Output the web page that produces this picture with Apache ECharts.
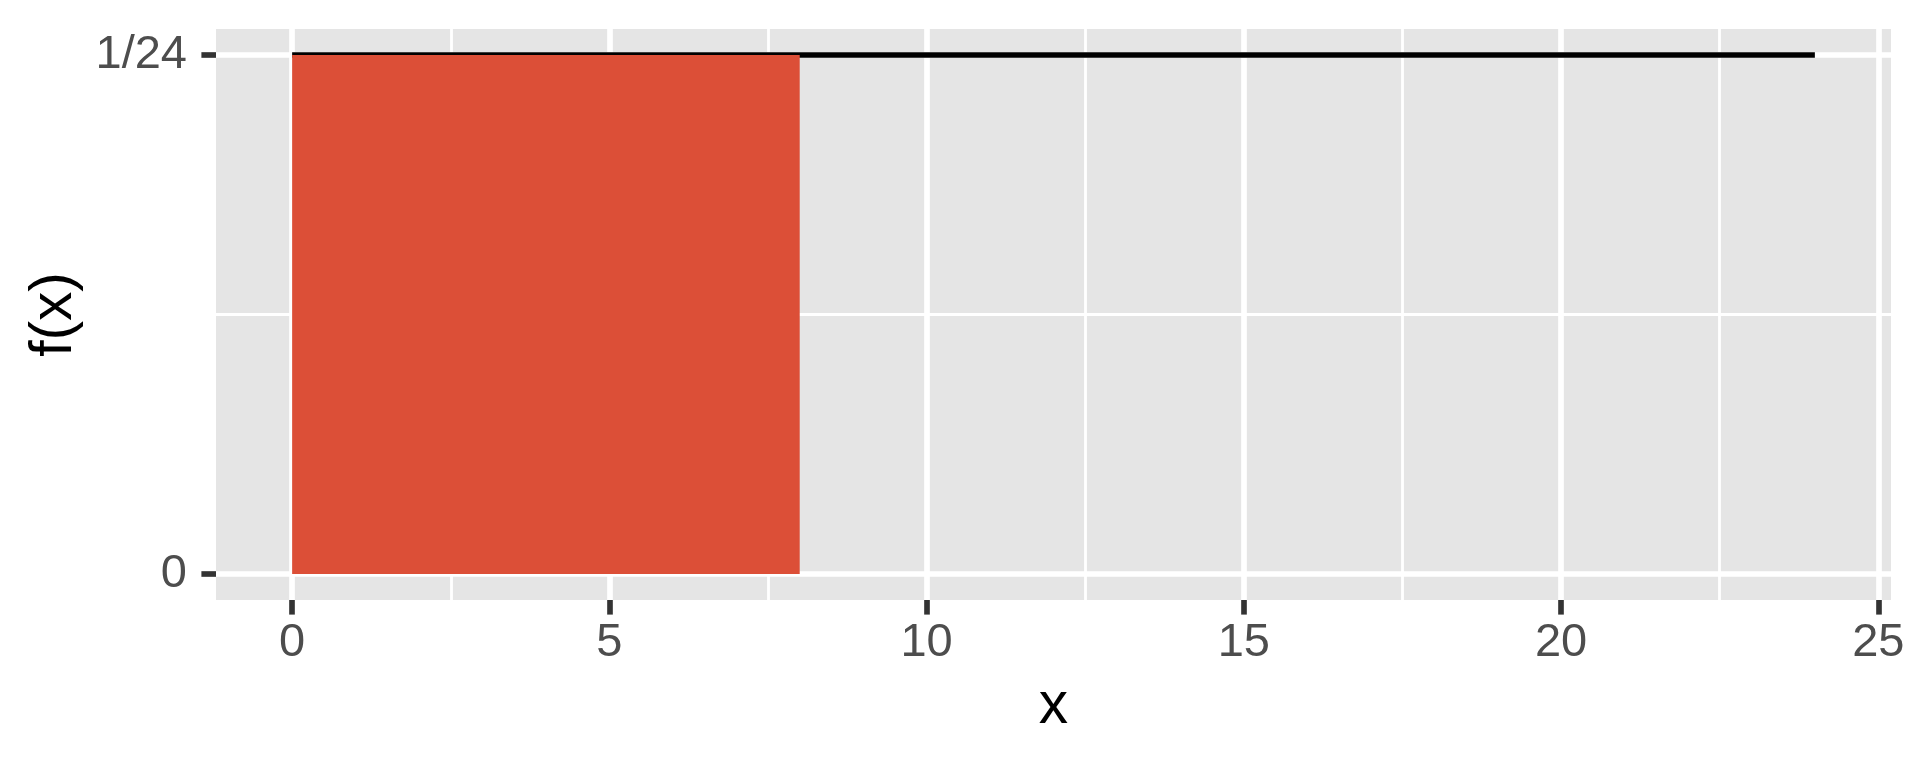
<!DOCTYPE html>
<html>
<head>
<meta charset="utf-8">
<script src="https://cdn.jsdelivr.net/npm/echarts@6/dist/echarts.min.js"></script>
<style>
html,body{margin:0;padding:0;background:#fff;}
#chart{width:1920px;height:768px;}
</style>
</head>
<body>
<div id="chart"></div>
<script>
// ---- data ----
const xTicks = [0, 5, 10, 15, 20, 25];
const xMinorTicks = [2.5, 7.5, 12.5, 17.5, 22.5];
const yTicks = [0, 1/24];
const yTickLabels = ['0', '1/24'];
const yMinorTicks = [1/48];
const xRange = [-1.2, 25.2];
const yRange = [-0.05/24, 1.05/24];
const densityX = [0, 24];
const densityY = [1/24, 1/24];
const shadeX = [0, 8];
const shadeY = [1/24, 1/24];

const FONT = "'Liberation Sans', Arial, sans-serif";
const majorW = 5.65, minorW = 2.8;

function yLabel(v) {
  let best = 0, d = Infinity;
  yTicks.forEach((t, i) => { const dd = Math.abs(t - v); if (dd < d) { d = dd; best = i; } });
  return yTickLabels[best];
}

const chart = echarts.init(document.getElementById('chart'), null, {renderer: 'canvas'});
chart.setOption({
  animation: false,
  backgroundColor: '#ffffff',
  grid: {
    left: 216, right: 29, top: 29, bottom: 168,
    show: true, backgroundColor: '#E5E5E5', borderWidth: 0, containLabel: false
  },
  xAxis: [
    {
      type: 'value', min: xRange[0], max: xRange[1], position: 'bottom',
      axisLine: {show: false, onZero: false},
      axisTick: {show: true, customValues: xTicks, length: 14.6, lineStyle: {color: '#333333', width: majorW}},
      axisLabel: {show: true, customValues: xTicks, margin: 20, color: '#4D4D4D', fontSize: 47, fontFamily: FONT},
      splitLine: {show: true, lineStyle: {color: '#ffffff', width: majorW}},
      name: 'x', nameLocation: 'middle', nameGap: 77,
      nameTextStyle: {color: '#000000', fontSize: 58.7, fontFamily: FONT}
    },
    {
      type: 'value', min: xRange[0], max: xRange[1], position: 'top',
      axisLine: {show: false, onZero: false},
      axisTick: {show: false, customValues: xMinorTicks},
      axisLabel: {show: false, customValues: xMinorTicks},
      splitLine: {show: true, lineStyle: {color: '#ffffff', width: minorW}}
    }
  ],
  yAxis: [
    {
      type: 'value', min: yRange[0], max: yRange[1], position: 'left',
      axisLine: {show: false, onZero: false},
      axisTick: {show: true, customValues: yTicks, length: 14.6, lineStyle: {color: '#333333', width: majorW}},
      axisLabel: {show: true, customValues: yTicks, margin: 29, color: '#4D4D4D', fontSize: 47, fontFamily: FONT, formatter: yLabel},
      splitLine: {show: true, lineStyle: {color: '#ffffff', width: majorW}},
      name: 'f(x)', nameLocation: 'middle', nameGap: 132, nameRotate: 90,
      nameTextStyle: {color: '#000000', fontSize: 58.7, fontFamily: FONT}
    },
    {
      type: 'value', min: yRange[0], max: yRange[1], position: 'right',
      axisLine: {show: false, onZero: false},
      axisTick: {show: false, customValues: yMinorTicks},
      axisLabel: {show: false, customValues: yMinorTicks},
      splitLine: {show: true, lineStyle: {color: '#ffffff', width: minorW}}
    }
  ],
  series: [
    {
      type: 'line', xAxisIndex: 0, yAxisIndex: 0,
      data: densityX.map((x, i) => [x, densityY[i]]),
      symbol: 'none', lineStyle: {color: '#000000', width: 5.6}, z: 3, silent: true
    },
    {
      type: 'line', xAxisIndex: 0, yAxisIndex: 0,
      data: shadeX.map((x, i) => [x, shadeY[i]]),
      symbol: 'none', lineStyle: {width: 0, color: '#DC4F37'},
      areaStyle: {color: '#DC4F37', opacity: 1, origin: 'auto'}, z: 4, silent: true
    }
  ]
});
</script>
</body>
</html>
